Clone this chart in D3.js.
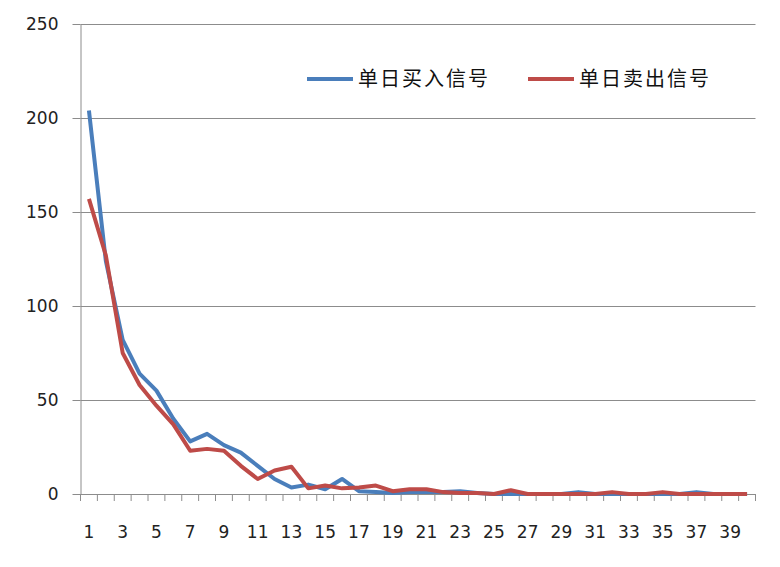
<!DOCTYPE html>
<html><head><meta charset="utf-8">
<script src="https://cdn.jsdelivr.net/npm/d3@7"></script>
<style>body{margin:0;background:#fff}svg{display:block}</style>
</head><body>
<svg id="c" width="780" height="567"></svg>
<script>
const categories = d3.range(1, 41);
const buySignals = [204, 124, 82, 64, 55, 40, 28, 32, 26, 22, 15, 8, 3.5, 5, 2.5, 8, 1.5, 1, 0.5, 1, 1, 1, 1.5, 0.5, 0, 0, 0, 0, 0, 1, 0, 0, 0, 0, 0, 0, 1, 0, 0, 0];
const sellSignals = [157, 127, 75, 58, 47, 37, 23, 24, 23, 15, 8, 12.5, 14.5, 3, 4.5, 3, 3.5, 4.5, 1.5, 2.5, 2.5, 1, 0.5, 0.5, 0, 2, 0, 0, 0, 0, 0, 1, 0, 0, 1, 0, 0, 0, 0, 0];
const seriesNames = ["单日买入信号", "单日卖出信号"];
const yTicks = [0, 50, 100, 150, 200, 250];
const xTickLabels = categories.filter(d => d % 2 === 1);

const svg = d3.select("#c");
const L = 80.5, R = 755.5, T = 24, B = 494;
const x = d3.scaleBand().domain(categories).range([L, R]);
const y = d3.scaleLinear().domain([0, 250]).range([B, T]);
const grid = "#8c8c8c";
const font = "'DejaVu Sans', Verdana, sans-serif";

// gridlines
svg.append("g").selectAll("line").data(yTicks.filter(d => d > 0)).join("line")
  .attr("x1", L).attr("x2", R).attr("y1", d => Math.round(y(d)) + 0.5).attr("y2", d => Math.round(y(d)) + 0.5)
  .attr("stroke", grid).attr("stroke-width", 1);

// y axis
const ya = svg.append("g").attr("transform", `translate(${L},0)`)
  .call(d3.axisLeft(y).tickValues(yTicks).tickSize(8).tickPadding(14).tickSizeOuter(0));
ya.select(".domain").attr("stroke", grid);
ya.selectAll(".tick line").attr("stroke", grid);
ya.selectAll(".tick text").attr("font-family", font).attr("font-size", 17).attr("fill", "#222");

// x axis
const xa = svg.append("g").attr("transform", `translate(0,${B})`)
  .call(d3.axisBottom(x).tickValues([]).tickSizeOuter(0));
xa.select(".domain").attr("stroke", grid);
xa.append("g").selectAll("line").data(d3.range(categories.length + 1)).join("line")
  .attr("x1", i => L + i * x.step()).attr("x2", i => L + i * x.step())
  .attr("y1", 0).attr("y2", 7).attr("stroke", grid);
xa.append("g").selectAll("text").data(xTickLabels).join("text")
  .attr("x", d => x(d) + x.bandwidth() / 2).attr("y", 44)
  .attr("text-anchor", "middle").attr("font-family", font).attr("font-size", 17).attr("fill", "#222")
  .text(d => d);

// lines
const colors = ["#4a7ebb", "#be4b48"];
const data = [buySignals, sellSignals];
const line = d3.line().x((d, i) => x(categories[i]) + x.bandwidth() / 2).y(d => y(d));
data.forEach((s, k) => {
  svg.append("path").datum(s).attr("d", line).attr("fill", "none")
    .attr("stroke", colors[k]).attr("stroke-width", 4).attr("stroke-linejoin", "round");
});

// legend
const lg = svg.append("g");
const legendX = [307, 528];
seriesNames.forEach((n, k) => {
  lg.append("line").attr("x1", legendX[k]).attr("x2", legendX[k] + 46).attr("y1", 79).attr("y2", 79)
    .attr("stroke", colors[k]).attr("stroke-width", 4);
  lg.append("text").attr("x", legendX[k] + 51).attr("y", 79).attr("dy", "0.35em")
    .attr("font-family", "'Noto Sans CJK SC', sans-serif").attr("font-size", 20).attr("letter-spacing", 2)
    .attr("fill", "#111").text(n);
});
</script>
</body></html>
